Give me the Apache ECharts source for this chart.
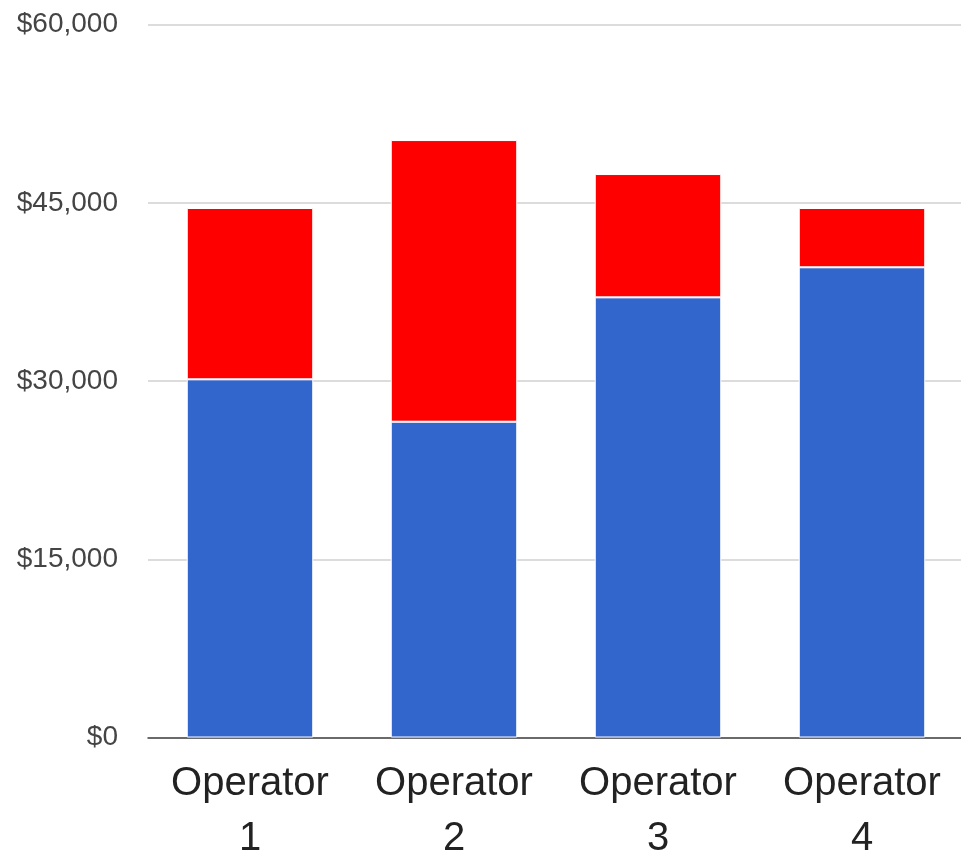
<!DOCTYPE html>
<html>
<head>
<meta charset="utf-8">
<script src="https://cdn.jsdelivr.net/npm/echarts@6/dist/echarts.min.js"></script>
<style>
html,body{margin:0;padding:0;background:#fff;}
#chart{width:961px;height:850px;}
</style>
</head>
<body>
<div id="chart"></div>
<script>
const categories = ['Operator\n1', 'Operator\n2', 'Operator\n3', 'Operator\n4'];
const blueValues = [30150, 26580, 37050, 39580];
const redValues = [14420, 23710, 10380, 4990];
const yTicks = { min: 0, max: 60000, interval: 15000 };

const chart = echarts.init(document.getElementById('chart'), null, { renderer: 'canvas' });
const fontFamily = '"Liberation Sans", Arial, Helvetica, sans-serif';
chart.setOption({
  animation: false,
  backgroundColor: '#ffffff',
  grid: { left: 148, right: -3, top: 24.7, bottom: 112.5, containLabel: false, outerBoundsMode: 'none' },
  xAxis: {
    type: 'category',
    data: categories,
    axisTick: { show: false },
    axisLine: { show: true, lineStyle: { color: '#444', width: 1.5 } },
    axisLabel: {
      color: '#222',
      fontSize: 40,
      fontFamily: fontFamily,
      lineHeight: 55,
      margin: 19,
      interval: 0
    },
    splitLine: { show: false }
  },
  yAxis: {
    type: 'value',
    min: yTicks.min,
    max: yTicks.max,
    interval: yTicks.interval,
    axisLine: { show: false },
    axisTick: { show: false },
    axisLabel: {
      color: '#444',
      fontSize: 28,
      fontFamily: fontFamily,
      margin: 30,
      formatter: function (v) { return '$' + v.toLocaleString('en-US'); }
    },
    splitLine: { show: true, lineStyle: { color: '#d0d0d0', width: 1.5 } }
  },
  series: [
    {
      name: 'Blue',
      type: 'bar',
      stack: 'total',
      data: blueValues,
      barWidth: '62%',
      itemStyle: { color: '#3366cc', borderColor: '#ffffff', borderWidth: 1 }
    },
    {
      name: 'Red',
      type: 'bar',
      stack: 'total',
      data: redValues,
      barWidth: '62%',
      itemStyle: { color: '#ff0000', borderColor: '#ffffff', borderWidth: 1 }
    }
  ]
});
</script>
</body>
</html>
